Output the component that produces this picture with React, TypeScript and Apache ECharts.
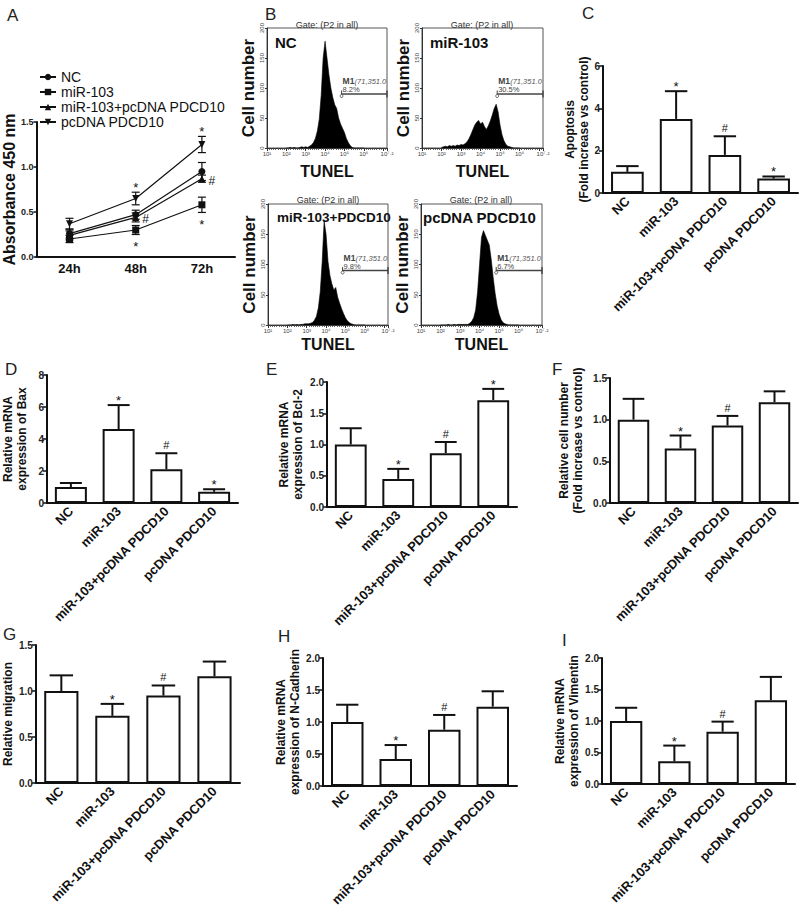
import { useEffect, useRef } from 'react';
import * as echarts from 'echarts';

const FONT = '"Liberation Sans", Arial, Helvetica, sans-serif';
const INK = '#111';

// ---------- Panel A : absorbance over time ----------
const timePoints = ['24h', '48h', '72h'];
const groupNames = ['NC', 'miR-103', 'miR-103+pcDNA PDCD10', 'pcDNA PDCD10'];
const absNC = [0.26, 0.47, 0.95];
const absNCErr = [0.05, 0.05, 0.1];
const absMiR = [0.2, 0.3, 0.58];
const absMiRErr = [0.04, 0.05, 0.085];
const absCombo = [0.24, 0.44, 0.87];
const absComboErr = [0.05, 0.05, 0.04];
const absPc = [0.37, 0.65, 1.25];
const absPcErr = [0.06, 0.07, 0.09];
const absMiRMarks = ['', '*', '*'];
const absComboMarks = ['', '#', '#'];
const absPcMarks = ['', '*', '*'];

// ---------- Panel B : TUNEL flow histograms ----------
const tunelBins = [
  2.0, 2.1, 2.2, 2.3, 2.4, 2.5, 2.6, 2.7, 2.8, 2.9,
  3.0, 3.1, 3.2, 3.3, 3.4, 3.5, 3.6, 3.7, 3.8, 3.9,
  4.0, 4.1, 4.2, 4.3, 4.4, 4.5, 4.6, 4.7, 4.8, 4.9,
  5.0, 5.1, 5.2, 5.3, 5.4, 5.5, 5.6, 5.7, 5.8, 5.9,
  6.0,
];
const tunelNC = [
  0, 0, 1, 0, 1, 0, 0, 1, 2, 1,
  2, 1, 3, 5, 9, 16, 28, 48, 88, 150,
  178, 150, 122, 100, 84, 72, 66, 50, 40, 33,
  26, 16, 9, 4, 1, 0, 0, 0, 0, 0,
  0,
];
const tunelMiR = [
  1, 2, 3, 2, 4, 3, 4, 3, 5, 4,
  6, 5, 7, 10, 15, 22, 30, 38, 43, 46,
  40, 43, 36, 31, 37, 45, 55, 66, 73, 60,
  38, 22, 12, 6, 3, 2, 1, 0, 0, 0,
  0,
];
const tunelCombo = [
  0, 0, 0, 1, 0, 1, 0, 1, 1, 2,
  2, 2, 3, 4, 8, 14, 28, 55, 105, 172,
  150, 105, 82, 68, 58, 62, 46, 36, 27, 19,
  12, 7, 4, 2, 1, 0, 0, 0, 0, 0,
  0,
];
const tunelPc = [
  0, 0, 0, 0, 1, 0, 0, 1, 0, 1,
  1, 1, 1, 1, 1, 3, 6, 12, 25, 55,
  100, 145, 156, 148, 140, 132, 108, 78, 52, 32,
  18, 9, 4, 2, 1, 0, 0, 0, 0, 0,
  0,
];
const tunelSamples = ['NC', 'miR-103', 'miR-103+PDCD10', 'pcDNA PDCD10'];
const m1Gate = [4.853, 7.2];
const m1Level = 90;
const m1Percents = ['8.2%', '30.5%', '9.8%', '6.7%'];

// ---------- Panels C-I : bar charts ----------
const barGroups = ['NC', 'miR-103', 'miR-103+pcDNA PDCD10', 'pcDNA PDCD10'];
const apoptosisMean = [1.0, 3.5, 1.8, 0.68];
const apoptosisErr = [0.27, 1.31, 0.88, 0.1];
const apoptosisMarks = ['', '*', '#', '*'];
const baxMean = [1.0, 4.62, 2.11, 0.7];
const baxErr = [0.25, 1.5, 1.0, 0.16];
const baxMarks = ['', '*', '#', '*'];
const bcl2Mean = [1.0, 0.45, 0.86, 1.71];
const bcl2Err = [0.26, 0.16, 0.18, 0.18];
const bcl2Marks = ['', '*', '#', '*'];
const cellNumMean = [1.0, 0.655, 0.93, 1.21];
const cellNumErr = [0.25, 0.155, 0.115, 0.13];
const cellNumMarks = ['', '*', '#', ''];
const migrationMean = [1.0, 0.73, 0.95, 1.16];
const migrationErr = [0.17, 0.13, 0.11, 0.16];
const migrationMarks = ['', '*', '#', ''];
const nCadMean = [1.0, 0.42, 0.88, 1.24];
const nCadErr = [0.27, 0.22, 0.23, 0.24];
const nCadMarks = ['', '*', '#', ''];
const vimMean = [1.0, 0.36, 0.83, 1.33];
const vimErr = [0.21, 0.25, 0.16, 0.37];
const vimMarks = ['', '*', '#', ''];

const supMap: Record<string, string> = {
  '0': '⁰', '1': '¹', '2': '²', '3': '³', '4': '⁴', '5': '⁵', '6': '⁶', '7': '⁷', '.': '·',
};

function txt(text: string, x: number, y: number, font: string, align = 'left', fill = '#222') {
  return {
    type: 'text',
    x,
    y,
    silent: true,
    style: {
      text,
      font,
      fill,
      align,
      verticalAlign: 'middle',
      textAlign: align,
      textVerticalAlign: 'middle',
    },
  };
}

function markText(mark: string, x: number, y: number, size: number) {
  return {
    type: 'text',
    style: {
      text: mark,
      x,
      y,
      font: `${size}px ${FONT}`,
      fill: INK,
      align: 'center',
      verticalAlign: 'middle',
      textAlign: 'center',
      textVerticalAlign: 'middle',
    },
  };
}

function buildOption() {
  const grids: any[] = [
    { left: 35, top: 122, width: 200, height: 135 }, // A
    { left: 267, top: 28, width: 120, height: 120 }, // B NC
    { left: 422, top: 28, width: 121, height: 120 }, // B miR-103
    { left: 268, top: 204, width: 120, height: 121 }, // B combo
    { left: 421, top: 204, width: 121, height: 121 }, // B pcDNA
    { left: 603, top: 66, width: 195, height: 127 }, // C
    { left: 47, top: 375, width: 191, height: 128 }, // D
    { left: 327, top: 382, width: 190, height: 125 }, // E
    { left: 610, top: 378, width: 188, height: 125 }, // F
    { left: 35, top: 645, width: 205, height: 138 }, // G
    { left: 323, top: 658, width: 194, height: 128 }, // H
    { left: 602, top: 658, width: 193, height: 126 }, // I
  ];
  for (let i = 1; i <= 4; i++) {
    grids[i] = { ...grids[i], show: true, borderColor: '#555', borderWidth: 1, backgroundColor: 'transparent' };
  }

  const xAxes: any[] = [];
  const yAxes: any[] = [];
  const series: any[] = [];

  // ---- A ----
  xAxes.push({
    gridIndex: 0,
    type: 'category',
    data: timePoints,
    boundaryGap: true,
    axisLine: { lineStyle: { color: INK, width: 2 } },
    axisTick: { alignWithLabel: true, length: 5, lineStyle: { color: INK, width: 1.5 } },
    axisLabel: { fontFamily: FONT, fontSize: 13, fontWeight: 'bold', color: INK, margin: 5 },
  });
  yAxes.push({
    gridIndex: 0,
    type: 'value',
    min: 0,
    max: 1.5,
    interval: 0.5,
    name: 'Absorbance 450 nm',
    nameLocation: 'middle',
    nameGap: 17,
    nameTextStyle: { fontFamily: FONT, fontSize: 16, fontWeight: 'bold', color: INK },
    axisLine: { show: true, lineStyle: { color: INK, width: 2 } },
    axisTick: { show: true, length: 3, lineStyle: { color: INK, width: 1.5 } },
    axisLabel: { fontFamily: FONT, fontSize: 9, fontWeight: 'bold', color: '#222', margin: 3, formatter: (v: number) => v.toFixed(1) },
    splitLine: { show: false },
  });
  const invTri = 'path://M0,0L10,0L5,9Z';
  const aGroups = [
    { name: groupNames[0], mean: absNC, err: absNCErr, marks: ['', '', ''], pos: 'above', symbol: 'circle' },
    { name: groupNames[1], mean: absMiR, err: absMiRErr, marks: absMiRMarks, pos: 'below', symbol: 'rect' },
    { name: groupNames[2], mean: absCombo, err: absComboErr, marks: absComboMarks, pos: 'right', symbol: 'triangle' },
    { name: groupNames[3], mean: absPc, err: absPcErr, marks: absPcMarks, pos: 'above', symbol: invTri },
  ];
  aGroups.forEach((g) => {
    series.push({
      type: 'custom',
      xAxisIndex: 0,
      yAxisIndex: 0,
      silent: true,
      z: 2,
      encode: { x: 0, y: 1 },
      data: g.mean.map((m, i) => [i, m, g.err[i]]),
      renderItem: (params: any, api: any) => {
        const i = api.value(0);
        const m = api.value(1);
        const e = api.value(2);
        const c = api.coord([i, m]);
        const hi = api.coord([i, m + e]);
        const lo = api.coord([i, m - e]);
        const hw = 4;
        const ls = { stroke: INK, lineWidth: 1.2 };
        const children: any[] = [
          { type: 'line', shape: { x1: c[0], y1: hi[1], x2: c[0], y2: lo[1] }, style: ls },
          { type: 'line', shape: { x1: c[0] - hw, y1: hi[1], x2: c[0] + hw, y2: hi[1] }, style: ls },
          { type: 'line', shape: { x1: c[0] - hw, y1: lo[1], x2: c[0] + hw, y2: lo[1] }, style: ls },
        ];
        const mk = g.marks[params.dataIndex];
        if (mk) {
          if (g.pos === 'above') children.push(markText(mk, c[0], hi[1] - 5, 13));
          else if (g.pos === 'below') children.push(markText(mk, c[0], lo[1] + 12, 13));
          else children.push(markText(mk, c[0] + 10, c[1] + 2, 12));
        }
        return { type: 'group', children };
      },
    });
    series.push({
      type: 'line',
      name: g.name,
      xAxisIndex: 0,
      yAxisIndex: 0,
      data: g.mean,
      symbol: g.symbol,
      symbolSize: 7,
      showSymbol: true,
      z: 3,
      lineStyle: { color: INK, width: 1.2 },
      itemStyle: { color: INK },
    });
  });

  // ---- B ----
  const tunelCounts = [tunelNC, tunelMiR, tunelCombo, tunelPc];
  for (let k = 0; k < 4; k++) {
    const gi = 1 + k;
    xAxes.push({
      gridIndex: gi,
      type: 'value',
      min: 1,
      max: 7.2,
      interval: 1,
      name: 'TUNEL',
      nameLocation: 'middle',
      nameGap: k < 2 ? 15 : 11,
      nameTextStyle: { fontFamily: FONT, fontSize: 16, fontWeight: 'bold', color: INK },
      axisLine: { show: true, lineStyle: { color: '#333', width: 1 } },
      axisTick: { show: true, length: 3, lineStyle: { color: '#333', width: 1 } },
      minorTick: { show: true, splitNumber: 9, length: 2, lineStyle: { color: '#444', width: 0.8 } },
      axisLabel: {
        fontFamily: FONT,
        fontSize: 6,
        color: '#444',
        margin: 3,
        showMaxLabel: true,
        formatter: (v: number) =>
          Math.abs(v - 7) < 1e-6
            ? ''
            : '10' + String(Math.round(v * 10) / 10).split('').map((ch) => supMap[ch] || ch).join(''),
      },
      splitLine: { show: false },
    });
    yAxes.push({
      gridIndex: gi,
      type: 'value',
      min: 0,
      max: 200,
      interval: 50,
      name: 'Cell number',
      nameLocation: 'middle',
      nameGap: 10,
      nameTextStyle: { fontFamily: FONT, fontSize: 17, fontWeight: 'bold', color: INK },
      axisLine: { show: true, lineStyle: { color: '#333', width: 1 } },
      axisTick: { show: true, length: 2, lineStyle: { color: '#333', width: 1 } },
      axisLabel: { fontFamily: FONT, fontSize: 6, color: '#444', margin: 2, rotate: 90 },
      splitLine: { show: false },
    });
    series.push({
      type: 'line',
      xAxisIndex: gi,
      yAxisIndex: gi,
      data: tunelBins.map((b, i) => [b, tunelCounts[k][i]]),
      symbol: 'none',
      silent: true,
      clip: true,
      lineStyle: { color: '#000', width: 0.6 },
      areaStyle: { color: '#000', opacity: 1 },
      z: 2,
    });
    series.push({
      type: 'custom',
      xAxisIndex: gi,
      yAxisIndex: gi,
      silent: true,
      z: 4,
      encode: { x: 0, y: 2 },
      data: [[m1Gate[0], m1Gate[1], m1Level]],
      renderItem: (_params: any, api: any) => {
        const p0 = api.coord([api.value(0), api.value(2)]);
        const p1 = api.coord([api.value(1), api.value(2)]);
        const ls = { stroke: '#444', lineWidth: 1.6 };
        return {
          type: 'group',
          children: [
            { type: 'line', shape: { x1: p0[0], y1: p0[1], x2: p1[0], y2: p1[1] }, style: ls },
            { type: 'line', shape: { x1: p0[0], y1: p0[1] - 3.5, x2: p0[0], y2: p0[1] + 3.5 }, style: { stroke: '#444', lineWidth: 1 } },
            { type: 'line', shape: { x1: p1[0], y1: p1[1] - 3.5, x2: p1[0], y2: p1[1] + 3.5 }, style: { stroke: '#444', lineWidth: 1.4 } },
            { type: 'circle', shape: { cx: p0[0], cy: p0[1] + 2, r: 1.5 }, style: { fill: '#fff', stroke: '#444', lineWidth: 0.8 } },
            {
              type: 'text',
              style: { text: 'M1', x: p0[0] + 1, y: p0[1] - 8.5, font: `bold 8.5px ${FONT}`, fill: '#444', align: 'left', verticalAlign: 'bottom', textAlign: 'left', textVerticalAlign: 'bottom' },
            },
            {
              type: 'text',
              style: { text: '(71,351.0', x: p0[0] + 13, y: p0[1] - 8.5, font: `italic 7.5px ${FONT}`, fill: '#555', align: 'left', verticalAlign: 'bottom', textAlign: 'left', textVerticalAlign: 'bottom' },
            },
            {
              type: 'text',
              style: { text: m1Percents[k], x: p0[0] + 1, y: p0[1] - 0.5, font: `7.5px ${FONT}`, fill: '#444', align: 'left', verticalAlign: 'bottom', textAlign: 'left', textVerticalAlign: 'bottom' },
            },
          ],
        };
      },
    });
  }

  // ---- C-I ----
  const barPanels = [
    { gi: 5, mean: apoptosisMean, err: apoptosisErr, marks: apoptosisMarks, max: 6, interval: 2, dec: 0, name: 'Apoptosis\n(Fold increase vs control)', gap: 12 },
    { gi: 6, mean: baxMean, err: baxErr, marks: baxMarks, max: 8, interval: 2, dec: 0, name: 'Relative mRNA\nexpression of Bax', gap: 18 },
    { gi: 7, mean: bcl2Mean, err: bcl2Err, marks: bcl2Marks, max: 2, interval: 0.5, dec: 1, name: 'Relative mRNA\nexpression of Bcl-2', gap: 22 },
    { gi: 8, mean: cellNumMean, err: cellNumErr, marks: cellNumMarks, max: 1.5, interval: 0.5, dec: 1, name: 'Relative cell number\n(Fold increase vs control)', gap: 25 },
    { gi: 9, mean: migrationMean, err: migrationErr, marks: migrationMarks, max: 1.5, interval: 0.5, dec: 1, name: 'Relative migration', gap: 20 },
    { gi: 10, mean: nCadMean, err: nCadErr, marks: nCadMarks, max: 2, interval: 0.5, dec: 1, name: 'Relative mRNA\nexpression of N-Cadherin', gap: 14 },
    { gi: 11, mean: vimMean, err: vimErr, marks: vimMarks, max: 2, interval: 0.5, dec: 1, name: 'Relative mRNA\nexpression of Vimentin', gap: 15 },
  ];
  barPanels.forEach((p) => {
    xAxes.push({
      gridIndex: p.gi,
      type: 'category',
      data: barGroups,
      axisLine: { lineStyle: { color: INK, width: 2 } },
      axisTick: { alignWithLabel: true, length: 4, lineStyle: { color: INK, width: 1.5 } },
      axisLabel: { fontFamily: FONT, fontSize: 13, fontWeight: 'bold', color: INK, rotate: 45, interval: 0, margin: 6 },
    });
    yAxes.push({
      gridIndex: p.gi,
      type: 'value',
      min: 0,
      max: p.max,
      interval: p.interval,
      name: p.name,
      nameLocation: 'middle',
      nameGap: p.gap,
      nameTextStyle: { fontFamily: FONT, fontSize: 12, fontWeight: 'bold', color: INK, lineHeight: 14 },
      axisLine: { show: true, lineStyle: { color: INK, width: 2 } },
      axisTick: { show: true, length: 4, lineStyle: { color: INK, width: 1.5 } },
      axisLabel: { fontFamily: FONT, fontSize: 10, fontWeight: 'bold', color: '#222', margin: 3, formatter: (v: number) => v.toFixed(p.dec) },
      splitLine: { show: false },
    });
    const axisIdx = xAxes.length - 1;
    series.push({
      type: 'bar',
      xAxisIndex: axisIdx,
      yAxisIndex: axisIdx,
      data: p.mean,
      barWidth: '67%',
      silent: true,
      z: 2,
      itemStyle: { color: '#fff', borderColor: INK, borderWidth: 2 },
    });
    series.push({
      type: 'custom',
      xAxisIndex: axisIdx,
      yAxisIndex: axisIdx,
      silent: true,
      z: 3,
      encode: { x: 0, y: 1 },
      data: p.mean.map((m, i) => [i, m, p.err[i]]),
      renderItem: (params: any, api: any) => {
        const i = api.value(0);
        const m = api.value(1);
        const e = api.value(2);
        const b = api.coord([i, m]);
        const t = api.coord([i, m + e]);
        const hw = api.size([1, 0])[0] * 0.23;
        const ls = { stroke: INK, lineWidth: 2 };
        const children: any[] = [
          { type: 'line', shape: { x1: b[0], y1: b[1], x2: t[0], y2: t[1] }, style: ls },
          { type: 'line', shape: { x1: t[0] - hw, y1: t[1], x2: t[0] + hw, y2: t[1] }, style: ls },
        ];
        const mk = p.marks[params.dataIndex];
        if (mk === '*') children.push(markText(mk, t[0], t[1] - 4.5, 13));
        else if (mk === '#') children.push(markText(mk, t[0], t[1] - 8, 11));
        return { type: 'group', children };
      },
    });
  });

  const letterFont = `17px ${FONT}`;
  const graphics: any[] = [
    txt('A', 7, 15, letterFont),
    txt('B', 265, 14, letterFont),
    txt('C', 582, 13, letterFont),
    txt('D', 5, 369, letterFont),
    txt('E', 266, 369, letterFont),
    txt('F', 552, 369, letterFont),
    txt('G', 3, 634, letterFont),
    txt('H', 278, 636, letterFont),
    txt('I', 562, 640, letterFont),
    txt('Gate: (P2 in all)', 327, 25, `9px ${FONT}`, 'center', '#333'),
    txt('Gate: (P2 in all)', 482, 25, `9px ${FONT}`, 'center', '#333'),
    txt('Gate: (P2 in all)', 328, 200, `9px ${FONT}`, 'center', '#333'),
    txt('Gate: (P2 in all)', 481, 200, `9px ${FONT}`, 'center', '#333'),
    txt(tunelSamples[0], 275, 42, `bold 15px ${FONT}`, 'left', INK),
    txt(tunelSamples[1], 430, 42, `bold 15px ${FONT}`, 'left', INK),
    txt(tunelSamples[2], 277, 217, `bold 13.5px ${FONT}`, 'left', INK),
    txt(tunelSamples[3], 423, 217, `bold 15px ${FONT}`, 'left', INK),
  ];

  return {
    animation: false,
    backgroundColor: '#fff',
    textStyle: { fontFamily: FONT },
    grid: grids,
    xAxis: xAxes,
    yAxis: yAxes,
    legend: {
      data: groupNames,
      orient: 'vertical',
      left: 34,
      top: 65,
      itemWidth: 16,
      itemHeight: 8,
      itemGap: 1,
      selectedMode: false,
      textStyle: { fontFamily: FONT, fontSize: 14, color: INK },
    },
    graphic: graphics,
    series,
  };
}

export default function App() {
  const ref = useRef<HTMLDivElement>(null);
  useEffect(() => {
    if (!ref.current) return;
    const chart = echarts.init(ref.current, null, { renderer: 'svg' });
    chart.setOption(buildOption() as any);
    return () => {
      chart.dispose();
    };
  }, []);
  return (
    <div
      ref={ref}
      style={{ position: 'absolute', left: 0, top: 0, width: 800, height: 912, background: '#fff' }}
    />
  );
}
